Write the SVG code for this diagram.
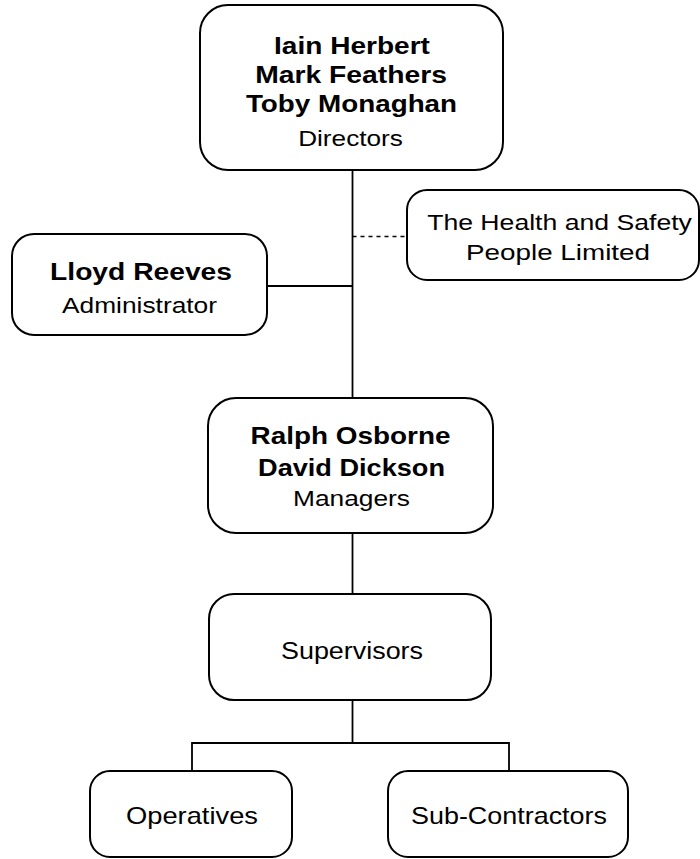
<svg xmlns="http://www.w3.org/2000/svg" width="700" height="859" viewBox="0 0 700 859">
<style>
.box{fill:#fff;stroke:#000;stroke-width:2}
.ln{fill:none;stroke:#000;stroke-width:1.8}
.dash{fill:none;stroke:#000;stroke-width:1.4;stroke-dasharray:4 4}
text{font-family:"Liberation Sans",Arial,sans-serif;text-anchor:middle;fill:#000}
.b{font-weight:bold;font-size:23px}
.r{font-size:22px}
.r2{font-size:23px}
</style>
<rect width="700" height="859" fill="#fff"/>
<g id="connectors">
<line class="ln" x1="352.5" y1="170" x2="352.5" y2="398"/>
<line class="ln" x1="267" y1="286" x2="352.5" y2="286"/>
<line class="dash" x1="352.5" y1="236.5" x2="407" y2="236.5"/>
<line class="ln" x1="352.5" y1="533" x2="352.5" y2="594"/>
<polyline class="ln" points="352.5,700 352.5,743"/>
<polyline class="ln" points="192,771 192,743 509,743 509,771"/>
</g>
<g id="directors">
<rect class="box" x="200" y="5" width="303" height="165" rx="28"/>
<text class="b" transform="translate(352 54) scale(1.22 1)">Iain Herbert</text>
<text class="b" transform="translate(351 82.7) scale(1.23 1)">Mark Feathers</text>
<text class="b" transform="translate(351.5 111.5) scale(1.21 1)">Toby Monaghan</text>
<text class="r" transform="translate(350.5 146) scale(1.19 1)">Directors</text>
</g>
<g id="administrator">
<rect class="box" x="12" y="234" width="255" height="101" rx="22"/>
<text class="b" transform="translate(141 280) scale(1.227 1)">Lloyd Reeves</text>
<text class="r" transform="translate(139.5 312.7) scale(1.196 1)">Administrator</text>
</g>
<g id="health-safety">
<rect class="box" x="407" y="190" width="292" height="90" rx="20"/>
<text class="r" transform="translate(559.5 230) scale(1.21 1)">The Health and Safety</text>
<text class="r" transform="translate(558 260) scale(1.265 1)">People Limited</text>
</g>
<g id="managers">
<rect class="box" x="208" y="398" width="285" height="135" rx="28"/>
<text class="b" transform="translate(350.5 444) scale(1.213 1)">Ralph Osborne</text>
<text class="b" transform="translate(351.5 476) scale(1.18 1)">David Dickson</text>
<text class="r" transform="translate(351.5 506) scale(1.196 1)">Managers</text>
</g>
<g id="supervisors">
<rect class="box" x="209" y="594" width="282" height="106" rx="25"/>
<text class="r2" transform="translate(352 658.5) scale(1.17 1)">Supervisors</text>
</g>
<g id="operatives">
<rect class="box" x="90" y="771" width="202" height="86" rx="20"/>
<text class="r2" transform="translate(192 824) scale(1.187 1)">Operatives</text>
</g>
<g id="subcontractors">
<rect class="box" x="388" y="771" width="240" height="86" rx="20"/>
<text class="r2" transform="translate(509 824) scale(1.171 1)">Sub-Contractors</text>
</g>
</svg>
